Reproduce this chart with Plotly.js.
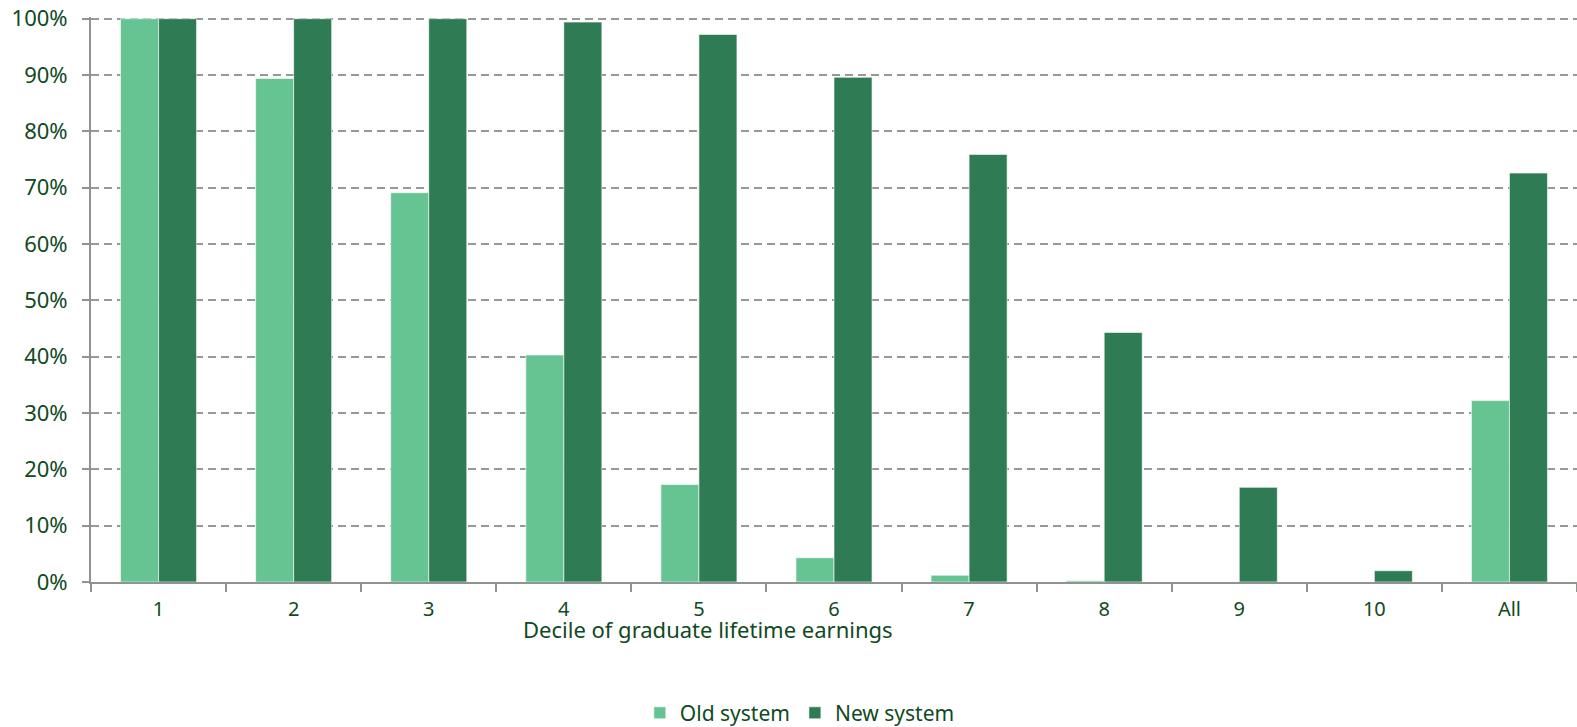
<!DOCTYPE html>
<html>
<head>
<meta charset="utf-8">
<script src="https://cdn.plot.ly/plotly-3.0.1.min.js"></script>
<style>html,body{margin:0;padding:0;background:#fff;}#chart{width:1577px;height:727px;}</style>
</head>
<body>
<div id="chart"></div>
<script>
const categories = ["1","2","3","4","5","6","7","8","9","10","All"];
const oldSystem = [100, 89.4, 69.1, 40.3, 17.3, 4.3, 1.2, 0.2, 0, 0, 32.2];
const newSystem = [100, 100, 100, 99.4, 97.2, 89.6, 75.9, 44.3, 16.8, 2.0, 72.6];
const yTicks = [0,10,20,30,40,50,60,70,80,90,100];
const yTickLabels = yTicks.map(v => v + "%");
const xTitle = "Decile of graduate lifetime earnings";

const textColor = "#0f4a22";
const fam = "Noto Sans, sans-serif";

const traces = [
  {type: "bar", name: "Old system", x: categories, y: oldSystem,
   marker: {color: "#66c493", line: {color: "#ffffff", width: 0.6}}},
  {type: "bar", name: "New system", x: categories, y: newSystem,
   marker: {color: "#2f7c54", line: {color: "#ffffff", width: 0.6}}}
];

const layout = {
  width: 1577, height: 727,
  margin: {l: 91, r: 0, t: 17, b: 145},
  paper_bgcolor: "#ffffff", plot_bgcolor: "#ffffff",
  font: {family: fam, size: 21, color: textColor},
  barmode: "group", bargap: 0.437, bargroupgap: 0,
  showlegend: true,
  legend: {orientation: "h", x: 0.477, xanchor: "center",
           yref: "container", y: 0.019, yanchor: "middle",
           font: {family: fam, size: 21, color: textColor},
           itemwidth: 30, traceorder: "normal"},
  xaxis: {
    type: "category", showgrid: false, showline: true, linecolor: "#8f948f", linewidth: 2,
    ticks: "outside", tickson: "boundaries", ticklen: 8, tickcolor: "#8f948f", tickwidth: 2,
    ticklabelstandoff: 8,
    tickfont: {family: fam, size: 20, color: textColor},
    automargin: false, fixedrange: true
  },
  yaxis: {
    range: [0, 100.3], tickvals: yTicks, ticktext: yTickLabels,
    showgrid: true, gridcolor: "#959a95", griddash: "8px,5px", gridwidth: 2,
    showline: true, linecolor: "#8f948f", linewidth: 2,
    ticks: "outside", ticklen: 7, tickcolor: "#8f948f", tickwidth: 2,
    ticklabelstandoff: 10,
    zeroline: false,
    tickfont: {family: fam, size: 22, color: textColor},
    automargin: false, fixedrange: true
  },
  annotations: [
    {text: xTitle, xref: "paper", yref: "paper", x: 0.415, y: -0.083,
     xanchor: "center", yanchor: "middle", showarrow: false,
     font: {family: fam, size: 22, color: textColor}}
  ]
};

Plotly.newPlot("chart", traces, layout, {displayModeBar: false, staticPlot: true});
</script>
</body>
</html>
